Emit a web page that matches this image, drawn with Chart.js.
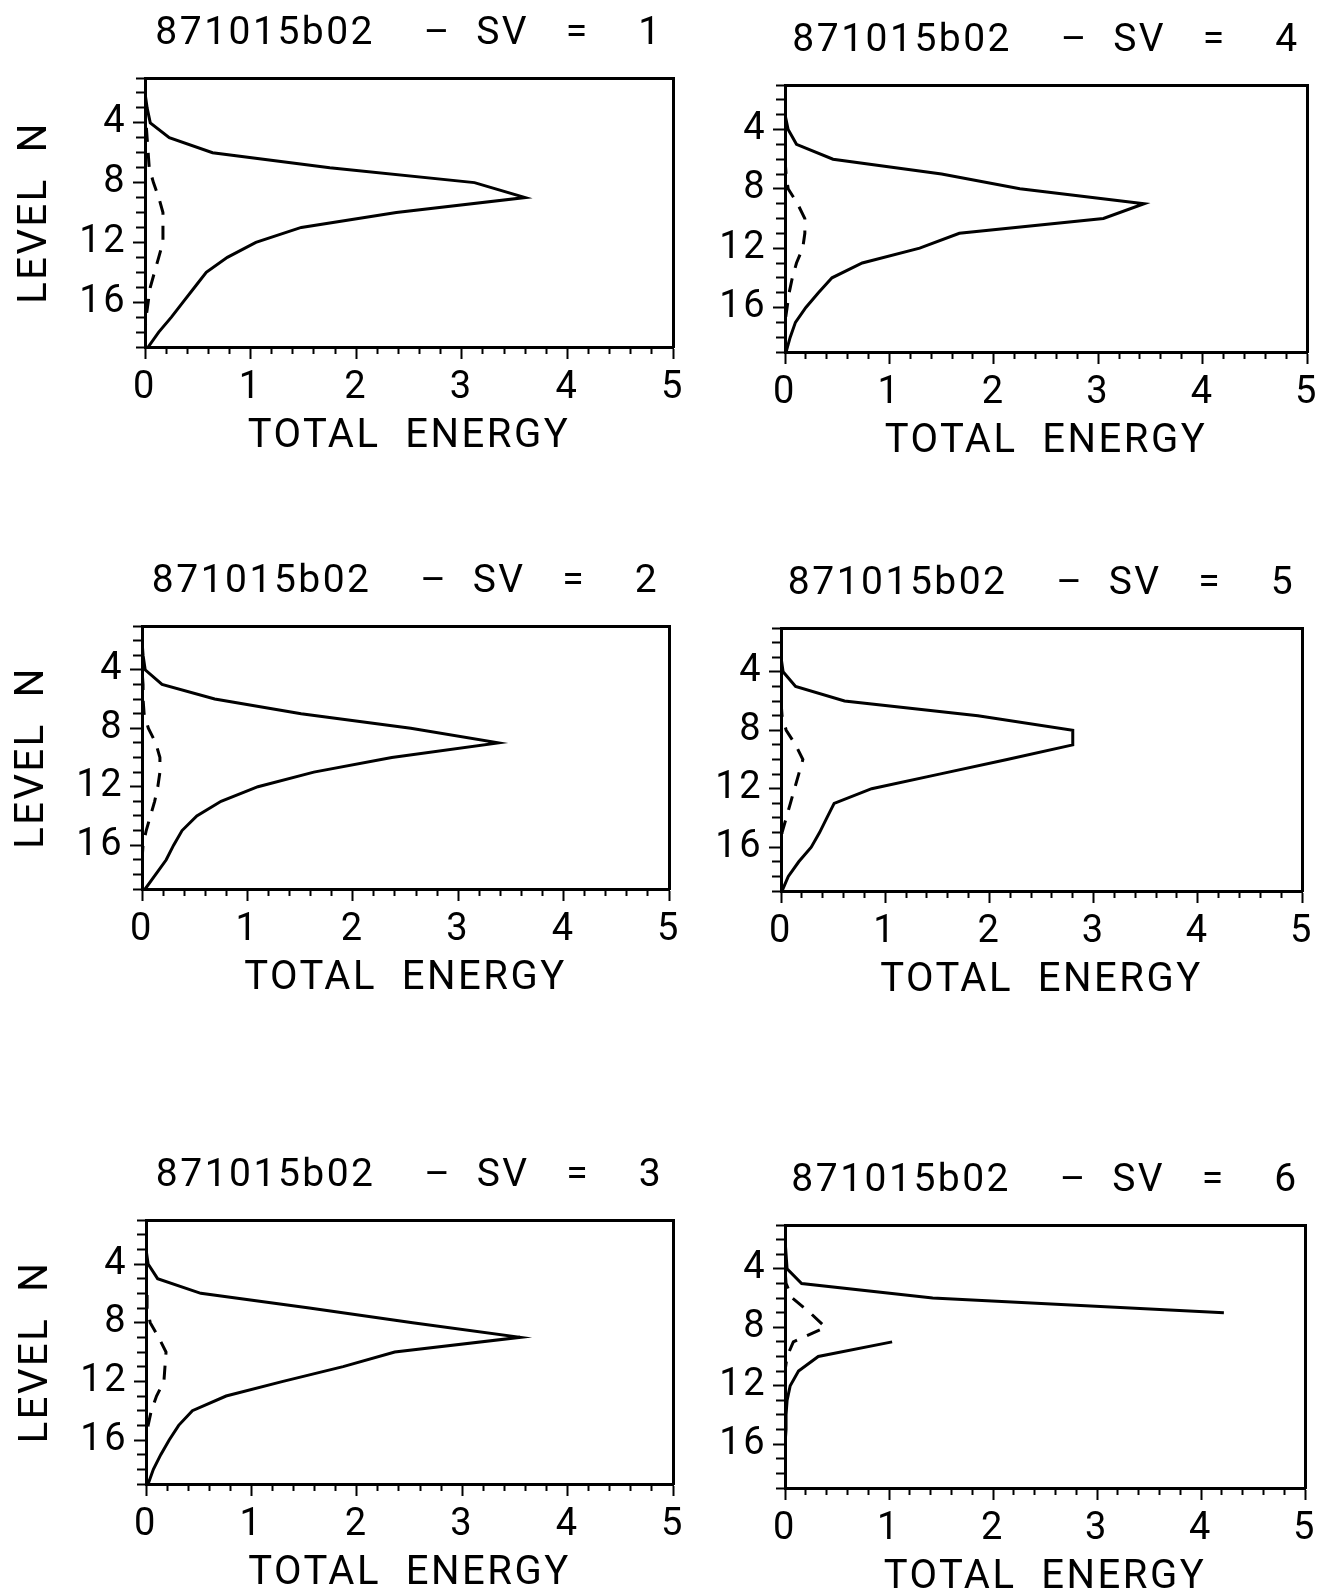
<!DOCTYPE html>
<html>
<head>
<meta charset="utf-8">
<script src="https://cdn.jsdelivr.net/npm/chart.js@4.4.0/dist/chart.umd.min.js"></script>
<style>
  html, body { margin: 0; padding: 0; background: #fff; }
  body { width: 1322px; height: 1592px; position: relative; overflow: hidden; }
  .panel { position: absolute; }
</style>
</head>
<body>
<script>
// model levels (vertical axis), one value per level in every series below
const levels = [1, 2, 3, 4, 5, 6, 7, 8, 9, 10, 11, 12, 13, 14, 15, 16, 17, 18, 19];

const sv1Solid  = [0, 0, 0.02, 0.05, 0.23, 0.64, 1.75, 3.12, 3.6, 2.38, 1.48, 1.05, 0.78, 0.58, 0.47, 0.36, 0.25, 0.13, 0.03];
const sv1Dashed = [0, 0, 0, 0.01, 0.02, 0.03, 0.04, 0.08, 0.13, 0.17, 0.17, 0.17, 0.13, 0.09, 0.05, 0.03, 0.01, 0, 0];

const sv2Solid  = [0, 0, 0.01, 0.03, 0.19, 0.69, 1.51, 2.55, 3.38, 2.37, 1.63, 1.1, 0.75, 0.52, 0.38, 0.3, 0.23, 0.13, 0.03];
const sv2Dashed = [0, 0, 0, 0, 0.01, 0.01, 0.02, 0.06, 0.13, 0.17, 0.17, 0.15, 0.12, 0.08, 0.04, 0.01, 0, 0, 0];

const sv3Solid  = [0, 0, 0, 0.02, 0.11, 0.52, 1.55, 2.53, 3.55, 2.36, 1.87, 1.3, 0.76, 0.44, 0.31, 0.22, 0.14, 0.07, 0.02];
const sv3Dashed = [0, 0, 0, 0, 0, 0.01, 0.01, 0.04, 0.12, 0.19, 0.18, 0.17, 0.1, 0.05, 0.02, 0, 0, 0, 0];

const sv4Solid  = [0, 0, 0, 0.03, 0.11, 0.46, 1.5, 2.25, 3.44, 3.05, 1.67, 1.29, 0.74, 0.45, 0.32, 0.2, 0.1, 0.05, 0.01];
const sv4Dashed = [0, 0, 0, 0, 0, 0, 0.01, 0.03, 0.12, 0.19, 0.19, 0.17, 0.11, 0.07, 0.04, 0.02, 0, 0, 0];

const sv5Solid  = [0, 0, 0, 0.02, 0.14, 0.61, 1.89, 2.8, 2.8, 2.17, 1.52, 0.87, 0.51, 0.44, 0.37, 0.29, 0.17, 0.07, 0.01];
const sv5Dashed = [0, 0, 0, 0, 0, 0, 0.01, 0.05, 0.14, 0.21, 0.17, 0.13, 0.09, 0.05, 0.01, 0, 0, 0, 0];

// level 8 of SV 6 lies off the scale, so the solid line is broken there
const sv6Solid  = [0, 0, 0.01, 0.02, 0.16, 1.42, 4.22, null, 1.03, 0.32, 0.13, 0.05, 0.02, 0.01, 0.01, 0, 0, 0, 0];
const sv6Dashed = [0, 0, 0, 0, 0.01, 0.07, 0.24, 0.39, 0.08, 0.02, 0, 0, 0, 0, 0, 0, 0, 0, 0];

const xTickLabels = [0, 1, 2, 3, 4, 5];
const yTickLabels = [4, 8, 12, 16];
const titleCase = "871015b02";

const panels = [
  { sv: 1, solid: sv1Solid, dashed: sv1Dashed, area: [145, 78, 673, 347], yTitle: true },
  { sv: 4, solid: sv4Solid, dashed: sv4Dashed, area: [785, 85, 1307, 352], yTitle: false },
  { sv: 2, solid: sv2Solid, dashed: sv2Dashed, area: [142, 626, 669, 889], yTitle: true },
  { sv: 5, solid: sv5Solid, dashed: sv5Dashed, area: [781, 628, 1302, 891], yTitle: false },
  { sv: 3, solid: sv3Solid, dashed: sv3Dashed, area: [146, 1220, 673, 1484], yTitle: true },
  { sv: 6, solid: sv6Solid, dashed: sv6Dashed, area: [785, 1225, 1305, 1488], yTitle: false }
];

const FONT = "Roboto, 'Liberation Sans', sans-serif";
const LEFT = 145, TOP = 78, RIGHT = 22, BOTTOM = 118;

// the plotter lettering is spaced wider than any installed font
const letterSpacing = {
  id: "letterSpacing",
  beforeDraw(chart) { chart.ctx.letterSpacing = "2.5px"; }
};

const sp = n => " ".repeat(n);
const isMajor = (v, list) => list.some(t => Math.abs(t - v) < 1e-6);

function toPoints(values) {
  return levels.map((lv, i) => ({ x: values[i], y: lv }));
}

function makePanel(p) {
  const [l, t, r, b] = p.area;
  const w = (r - l) + LEFT + RIGHT;
  const h = (b - t) + TOP + BOTTOM;
  const div = document.createElement("div");
  div.className = "panel";
  div.style.left = (l - LEFT) + "px";
  div.style.top = (t - TOP) + "px";
  div.style.width = w + "px";
  div.style.height = h + "px";
  const canvas = document.createElement("canvas");
  canvas.width = w;
  canvas.height = h;
  div.appendChild(canvas);
  document.body.appendChild(div);

  const title = titleCase + sp(4) + "\u2013" + sp(2) + "SV" + sp(3) + "=" + sp(4) + p.sv;

  new Chart(canvas, {
    type: "line",
    data: {
      datasets: [
        {
          data: toPoints(p.solid),
          borderColor: "#000",
          borderWidth: 3,
          pointRadius: 0,
          tension: 0,
          spanGaps: false
        },
        {
          data: toPoints(p.dashed),
          borderColor: "#000",
          borderWidth: 3,
          borderDash: [14, 11],
          pointRadius: 0,
          tension: 0
        }
      ]
    },
    plugins: [letterSpacing],
    options: {
      responsive: false,
      animation: false,
      events: [],
      layout: { padding: 0 },
      plugins: { legend: { display: false }, tooltip: { enabled: false } },
      scales: {
        x: {
          type: "linear",
          position: "bottom",
          min: 0,
          max: 5,
          afterBuildTicks: s => {
            s.ticks = [];
            for (let i = 0; i <= 25; i++) s.ticks.push({ value: i / 5 });
          },
          afterFit: s => { s.height = BOTTOM; },
          ticks: {
            autoSkip: false,
            maxRotation: 0,
            padding: 7,
            color: "#000",
            font: { family: FONT, size: 38 },
            callback: v => isMajor(v, xTickLabels) ? String(Math.round(v)) : ""
          },
          grid: {
            drawOnChartArea: false,
            drawTicks: true,
            tickLength: 12,
            tickWidth: 2,
            tickColor: "#000",
            tickBorderDash: c => isMajor(c.tick.value, xTickLabels) ? [] : [5, 100]
          },
          border: { display: true, color: "#000", width: 3 },
          title: {
            display: true,
            text: "TOTAL  ENERGY",
            color: "#000",
            padding: 4,
            font: { family: FONT, size: 40 }
          }
        },
        x2: {
          type: "linear",
          position: "top",
          min: 0,
          max: 5,
          afterFit: s => { s.height = TOP; },
          ticks: { display: false },
          grid: { drawOnChartArea: false, drawTicks: false },
          border: { display: true, color: "#000", width: 3 },
          title: {
            display: true,
            text: title,
            color: "#000",
            padding: { top: 11, bottom: 0 },
            font: { family: FONT, size: 39 }
          }
        },
        y: {
          type: "linear",
          position: "left",
          min: 1,
          max: 19,
          reverse: true,
          afterBuildTicks: s => { s.ticks = levels.map(v => ({ value: v })); },
          afterFit: s => { s.width = LEFT; },
          ticks: {
            autoSkip: false,
            padding: 6,
            color: "#000",
            font: { family: FONT, size: 38 },
            callback: v => isMajor(v, yTickLabels) ? String(v) : ""
          },
          grid: {
            drawOnChartArea: false,
            drawTicks: true,
            tickLength: 12,
            tickWidth: 2,
            tickColor: "#000",
            tickBorderDash: c => isMajor(c.tick.value, yTickLabels) ? [] : [0, 3, 9, 100]
          },
          border: { display: true, color: "#000", width: 3 },
          title: {
            display: p.yTitle,
            text: "LEVEL  N",
            color: "#000",
            padding: 12,
            font: { family: FONT, size: 40 }
          }
        },
        y2: {
          type: "linear",
          position: "right",
          min: 1,
          max: 19,
          afterFit: s => { s.width = RIGHT; },
          ticks: { display: false },
          grid: { drawOnChartArea: false, drawTicks: false },
          border: { display: true, color: "#000", width: 3 }
        }
      }
    }
  });
}

panels.forEach(makePanel);
</script>
</body>
</html>
